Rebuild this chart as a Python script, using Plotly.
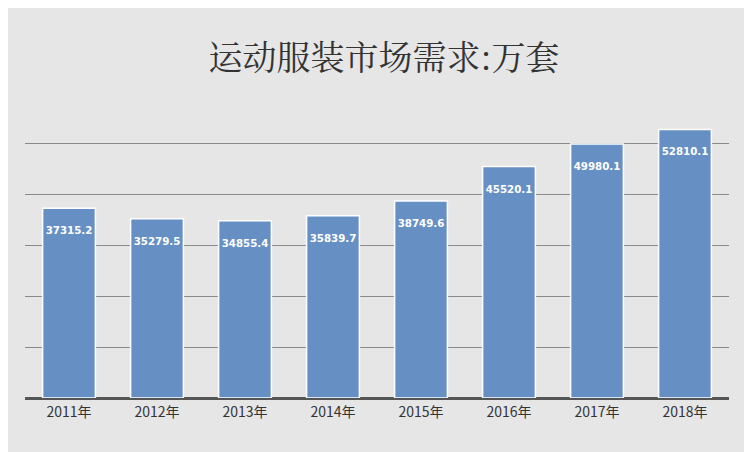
import plotly.graph_objects as go

years = ['2011年', '2012年', '2013年', '2014年', '2015年', '2016年', '2017年', '2018年']
demand = [37315.2, 35279.5, 34855.4, 35839.7, 38749.6, 45520.1, 49980.1, 52810.1]
labels = [f' <br>{v:.1f}' for v in demand]

fig = go.Figure(go.Bar(
    x=years, y=demand, text=labels,
    textposition='inside', insidetextanchor='end',
    textfont=dict(color='white', size=15, family='DejaVu Sans', weight='bold'),
    marker=dict(color='#6690c4', line=dict(color='white', width=1.5)),
    textangle=0,
))

fig.update_layout(
    width=752, height=452,
    margin=dict(l=17, r=31, t=85, b=62),
    title=dict(text='运动服装市场需求:万套', x=0.5, y=0.915, xanchor='center',
               font=dict(family='Noto Serif CJK SC, Noto Sans CJK SC', size=34, color='#333333')),
    paper_bgcolor='#e6e6e6', plot_bgcolor='rgba(0,0,0,0)',
    bargap=0.4, showlegend=False,
)
fig.update_yaxes(range=[0, 60000], dtick=10000, showticklabels=False,
                 gridcolor='#8a8a8a', gridwidth=1, zeroline=True, zerolinecolor='#555555')
fig.update_xaxes(tickfont=dict(family='Noto Sans CJK SC', size=14, color='#333333'),
                 showline=True, linecolor='#555555', linewidth=2)

fig.write_html('out.html')
